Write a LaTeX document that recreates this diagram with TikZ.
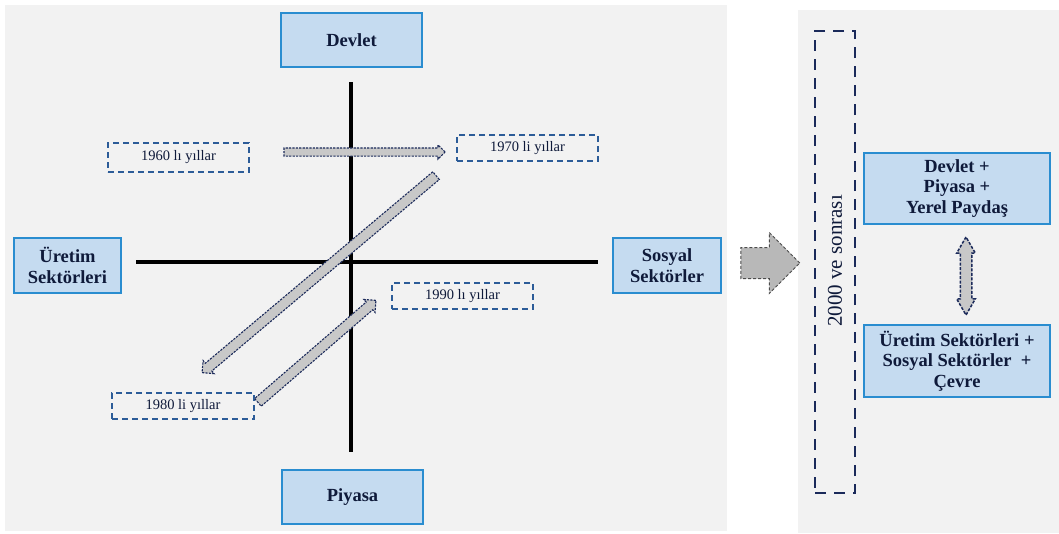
\documentclass[tikz,border=0pt]{standalone}
\usepackage{fontspec}
\setmainfont{Liberation Serif}
\usetikzlibrary{shapes.arrows,calc}
\definecolor{panel}{HTML}{F2F2F2}
\definecolor{boxfill}{HTML}{C5DBF0}
\definecolor{boxline}{HTML}{2A8DD0}
\definecolor{navy}{HTML}{1B2A5A}
\definecolor{dashblue}{HTML}{2C5C98}
\definecolor{arrowgray}{HTML}{C8C8C8}
\definecolor{txt}{HTML}{0F1A3A}
\newcommand{\hollowarrow}[5]{%
  \path let \p1=($(#2)-(#1)$), \n1={atan2(\y1,\x1)}, \n2={veclen(\x1,\y1)} in
    node[hollowarr, rotate=\n1, minimum height=\n2, inner sep=#3,
         single arrow head extend=#4] at ($(#1)!0.5!(#2)$) {};}
\begin{document}
\begin{tikzpicture}[x=1pt,y=-1pt,
  bluebox/.style={draw=boxline, line width=2pt, fill=boxfill, text=txt,
    font=\bfseries\fontsize{18.5}{20.5}\selectfont, align=center, inner sep=0pt},
  yearbox/.style={draw=dashblue, line width=1.8pt, dash pattern=on 6pt off 4pt,
    text=txt, font=\fontsize{14.5}{16}\selectfont, inner sep=0pt,
    minimum height=26pt, minimum width=141pt},
  hollowarr/.style={single arrow, draw=navy, fill=arrowgray, line width=1.1pt,
    dash pattern=on 2.2pt off 1.2pt, minimum width=0pt, outer sep=0pt,
    single arrow tip angle=90},
  axisline/.style={line width=4pt, black}]
\useasboundingbox (0,0) rectangle (1059,533);
\fill[white] (0,0) rectangle (1059,533);
% panels
\node[fill=panel, minimum width=722pt, minimum height=526pt, inner sep=0pt, outer sep=0pt] (leftpanel) at (366,268) {};
\node[fill=panel, minimum width=261pt, minimum height=523pt, inner sep=0pt, outer sep=0pt] (rightpanel) at (928.5,271.5) {};
% axes
\coordinate (vtop) at (351,82);
\coordinate (vbot) at (351,452);
\coordinate (hleft) at (136,262);
\coordinate (hright) at (598,262);
\draw[axisline] (vtop) -- (vbot);
\draw[axisline] (hleft) -- (hright);
% corner boxes
\node[bluebox, minimum width=141pt, minimum height=54pt] (devlet) at (351.5,40) {Devlet};
\node[bluebox, minimum width=141pt, minimum height=54pt] (piyasa) at (352.5,497) {Piyasa};
\node[bluebox, minimum width=107pt, minimum height=55pt] (uretim) at (67.5,265.5) {Üretim\\Sektörleri};
\node[bluebox, minimum width=108pt, minimum height=55pt] (sosyal) at (667,265.5) {Sosyal\\Sektörler};
% year boxes
\node[yearbox, minimum height=29pt] (y1960) at (178.5,157.5) {1960 lı yıllar};
\node[yearbox] (y1970) at (527.5,148) {1970 li yıllar};
\node[yearbox] (y1990) at (462.5,296) {1990 lı yıllar};
\node[yearbox, minimum width=142pt] (y1980) at (183,406) {1980 li yıllar};
% arrows
\coordinate (a1s) at (282,152);
\coordinate (a1e) at (443,152);
\coordinate (a2s) at (438,174);
\coordinate (a2e) at (204,371);
\coordinate (a3s) at (256,404);
\coordinate (a3e) at (374,302);
\hollowarrow{a1s}{a1e}{3.5pt}{3pt}{}
\hollowarrow{a2s}{a2e}{4.5pt}{3.5pt}{}
\hollowarrow{a3s}{a3e}{4.5pt}{3.5pt}{}
% big arrow between panels
\coordinate (bigs) at (733,263);
\coordinate (bige) at (792,263);
\path let \p1=($(bige)-(bigs)$), \n2={veclen(\x1,\y1)} in
  node[single arrow, draw=black!70, fill=black!28, line width=1pt,
       dash pattern=on 3pt off 2pt, minimum width=0pt, inner sep=15pt,
       single arrow head extend=15pt, single arrow tip angle=90,
       minimum height=\n2, outer sep=0pt] (bigarrow) at ($(bigs)!0.5!(bige)$) {};
% right panel
\node[draw=navy, line width=2.6pt, dash pattern=on 11pt off 8pt,
      minimum width=40pt, minimum height=462pt, inner sep=0pt] (era) at (835,262) {};
\node[rotate=90, text=txt, font=\fontsize{21}{24}\selectfont] (eratext) at (835,261) {2000 ve sonrası};
\node[bluebox, minimum width=186pt, minimum height=71pt] (r1) at (957,188.5)
  {Devlet +\\Piyasa +\\Yerel Paydaş};
\node[bluebox, minimum width=186pt, minimum height=72pt] (r2) at (957,361)
  {Üretim Sektörleri +\\Sosyal Sektörler~ +\\Çevre};
\coordinate (ds) at (966,237);
\coordinate (de) at (966,315);
\path let \p1=($(de)-(ds)$), \n2={veclen(\x1,\y1)} in
  node[double arrow, draw=navy, fill=arrowgray, line width=1.5pt,
       dash pattern=on 3pt off 1.5pt, minimum width=0pt, inner sep=5pt,
       double arrow head extend=3.5pt, double arrow tip angle=60,
       minimum height=\n2, rotate=90, outer sep=0pt] (darrow) at ($(ds)!0.5!(de)$) {};
\end{tikzpicture}
\end{document}
